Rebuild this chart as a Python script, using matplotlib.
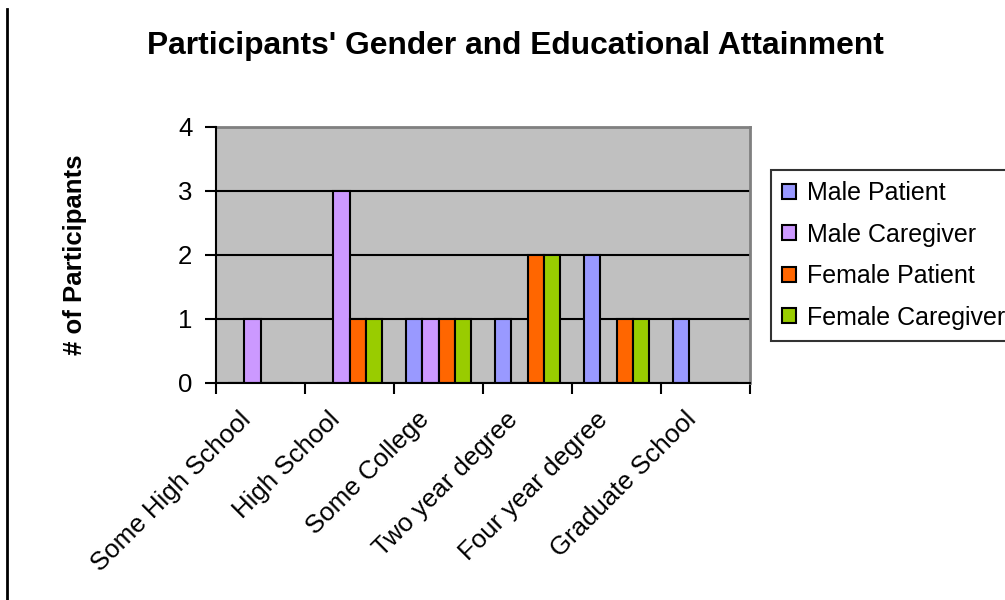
import matplotlib
matplotlib.use("Agg")
import matplotlib.pyplot as plt
import matplotlib.transforms as mtransforms
import numpy as np
from matplotlib.lines import Line2D

categories = ["Some High School", "High School", "Some College",
              "Two year degree", "Four year degree", "Graduate School"]
series_names = ["Male Patient", "Male Caregiver", "Female Patient", "Female Caregiver"]
male_patient = [0, 0, 1, 1, 2, 1]
male_caregiver = [1, 3, 1, 0, 0, 0]
female_patient = [0, 1, 1, 2, 1, 0]
female_caregiver = [0, 1, 1, 2, 1, 0]
y_ticks = [0, 1, 2, 3, 4]

series_values = [male_patient, male_caregiver, female_patient, female_caregiver]
colors = ["#9999FF", "#CC99FF", "#FF6600", "#99CC00"]

plt.rcParams['font.family'] = ['Liberation Sans', 'DejaVu Sans']

fig = plt.figure(figsize=(10.05, 6.0), dpi=100)
ax = fig.add_axes([216/1005, 1-383/600, (750-216)/1005, (383-127)/600])
ax.set_facecolor("#C0C0C0")

n = len(series_values)
x = np.arange(len(categories))
w = 1/5.5
handles = []
for i, (vals, c, name) in enumerate(zip(series_values, colors, series_names)):
    offs = (i - (n-1)/2) * w
    b = ax.bar(x + offs, vals, width=w, color=c, edgecolor="black", linewidth=1.5,
               label=name, zorder=3)
    handles.append(b)

ax.set_xlim(-0.5, len(categories)-0.5)
ax.set_ylim(0, 4)
ax.set_yticks(y_ticks)
ax.set_yticklabels([str(v) for v in y_ticks], fontsize=18.5)
ax.yaxis.grid(True, color="black", linewidth=1.5, zorder=1)
ax.set_axisbelow(True)

# tick marks at category boundaries
ax.set_xticks(np.arange(len(categories)+1) - 0.5)
ax.set_xticklabels([])
ax.tick_params(axis='x', which='major', length=8, width=1.5, direction='out')
ax.tick_params(axis='y', length=8, width=1.5, direction='out', pad=9)

# category labels, rotated, anchored at their right-centre near each category centre
base = mtransforms.blended_transform_factory(ax.transData, ax.transAxes)
off = mtransforms.ScaledTranslation(-13/100, -33/100, fig.dpi_scale_trans)
for xi, cat in zip(x, categories):
    ax.text(xi, 0, cat, transform=base + off, rotation=45, rotation_mode='anchor',
            ha='right', va='center', fontsize=18.6, clip_on=False)

for s in ['left', 'bottom']:
    ax.spines[s].set_color('black')
    ax.spines[s].set_linewidth(1.5)
for s in ['top', 'right']:
    ax.spines[s].set_color('#808080')
    ax.spines[s].set_linewidth(2)
ax.spines['left'].set_zorder(4)
ax.spines['bottom'].set_zorder(4)

fig.text(515/1005, 1-46/600, "Participants' Gender and Educational Attainment",
         ha='center', va='center', fontsize=22.9, fontweight='bold')
fig.text(75/1005, 1-255/600, "# of Participants", rotation=90,
         ha='center', va='center', fontsize=18.5, fontweight='bold')

leg = fig.legend(handles=handles, labels=series_names, loc='upper left',
                 bbox_to_anchor=(771/1005, 1-170/600), borderaxespad=0,
                 fontsize=18, frameon=True, fancybox=False, edgecolor='black',
                 handlelength=0.55, handleheight=0.55, handletextpad=0.42,
                 labelspacing=0.7, borderpad=0.45)
leg.get_frame().set_linewidth(1.5)
for h in leg.legend_handles:
    h.set_linewidth(1.5)

fig.add_artist(Line2D([7/1005, 7/1005], [0, 1-9/600], color='black', linewidth=2,
                      transform=fig.transFigure))

fig.savefig("out.png", dpi=100)
